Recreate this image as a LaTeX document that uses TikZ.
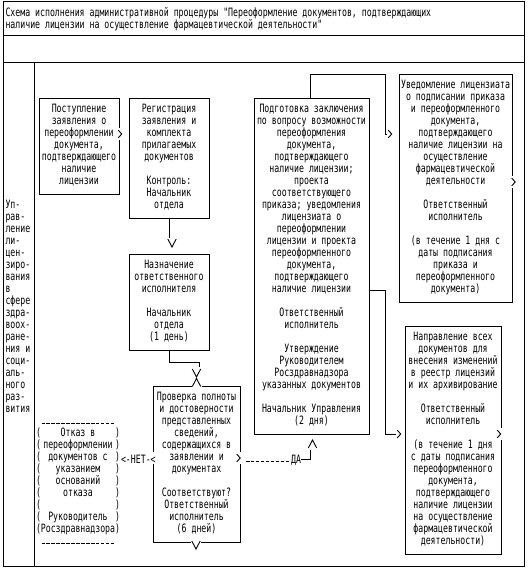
\documentclass[tikz,border=0pt]{standalone}
\usepackage{fontspec}
\newfontfamily\dmono[FakeStretch=0.715]{DejaVu Sans Mono}
\usetikzlibrary{calc}
\begin{document}
\begin{tikzpicture}[x=1pt,y=-1pt,line width=1pt,
  tx/.style={font=\dmono\fontsize{11.5pt}{12pt}\selectfont, align=center, inner sep=0pt,
    execute at begin node={\rule{0pt}{14.5pt}}, execute at end node={\rule[-3.5pt]{0pt}{3.5pt}}},
  box/.style={tx, draw, rectangle},
  lbl/.style={font=\dmono\fontsize{11.5pt}{12pt}\selectfont, inner sep=0pt, text height=11.5pt, text depth=0.5pt},
  hy/.style={dash pattern=on 3.5pt off 1.45pt},
  gtn/.style={inner sep=0pt, minimum width=5.5pt, minimum height=12pt, fill=white,
    path picture={\draw[line width=0.9pt] ($(path picture bounding box.center)+(-1.75pt,3.8pt)$) -- ($(path picture bounding box.center)+(1.75pt,0pt)$) -- ($(path picture bounding box.center)+(-1.75pt,-3.8pt)$);}},
  vdn/.style={inner sep=0pt, minimum width=10pt, minimum height=10pt, fill=white,
    path picture={\draw[line width=0.9pt] ($(path picture bounding box.center)+(-4.2pt,4pt)$) -- ($(path picture bounding box.center)+(0pt,-4pt)$) -- ($(path picture bounding box.center)+(4.2pt,4pt)$);}},
  vup/.style={inner sep=0pt, minimum width=10pt, minimum height=10pt, fill=white,
    path picture={\draw[line width=0.9pt] ($(path picture bounding box.center)+(-4.2pt,-4pt)$) -- ($(path picture bounding box.center)+(0pt,4pt)$) -- ($(path picture bounding box.center)+(4.2pt,-4pt)$);}}
]
\useasboundingbox (0,0) rectangle (529,570);
\fill[white] (0,0) rectangle (529,570);

% frame
\draw (3,1.5) rectangle (524,566);
\draw (3,35) -- (524,35);
\draw (3,62) -- (524,62);
\draw (34,62) -- (34,566);

\node[tx, align=left, anchor=west] (title) at (5,20) {Схема исполнения административной процедуры "Переоформление документов, подтверждающих\\наличие лицензии на осуществление фармацевтической деятельности"};

\node[tx, align=left, anchor=west] (lane) at (5,308) {Уп-\\рав-\\ление\\ли-\\цен-\\зиро-\\вания\\в\\сфере\\здра-\\воох-\\ране-\\ния и\\соци-\\аль-\\ного\\раз-\\вития};

% boxes
\node[box, minimum width=80pt, minimum height=96pt] (b1) at (79,146) {Поступление\\заявления о\\переоформлении\\документа,\\подтверждающего\\наличие\\лицензии};
\node[box, minimum width=80pt, minimum height=120pt] (b2) at (169,158) {Регистрация\\заявления и\\комплекта\\прилагаемых\\документов\\[12pt]Контроль:\\Начальник\\отдела};
\node[box, minimum width=80pt, minimum height=96pt] (b3) at (169,302) {Назначение\\ответственного\\исполнителя\\[12pt]Начальник\\отдела\\(1 день)};
\node[box, minimum width=87pt, minimum height=156pt] (b4) at (196.5,464) {Проверка полноты\\и достоверности\\представленных\\сведений,\\содержащихся в\\заявлении и\\документах\\[12pt]Соответствуют?\\Ответственный\\исполнитель\\(6 дней)};
\node[box, minimum width=115pt, minimum height=336pt] (b5) at (311.5,266) {Подготовка заключения\\по вопросу возможности\\переоформления\\документа,\\подтверждающего\\наличие лицензии;\\проекта\\соответствующего\\приказа; уведомления\\лицензиата о\\переоформлении\\лицензии и проекта\\переоформленного\\документа,\\подтверждающего\\наличие лицензии\\[12pt]Ответственный\\исполнитель\\[12pt]Утверждение\\Руководителем\\Росздравнадзора\\указанных документов\\[12pt]Начальник Управления\\(2 дня)};
\node[box, minimum width=113pt, minimum height=228pt] (b6) at (455.5,188) {Уведомление лицензиата\\о подписании приказа\\и переоформленного\\документа,\\подтверждающего\\наличие лицензии на\\осуществление\\фармацевтической\\деятельности\\[12pt]Ответственный\\исполнитель\\[12pt](в течение 1 дня с\\даты подписания\\приказа и\\переоформленного\\документа)};
\node[box, minimum width=96pt, minimum height=228pt] (b7) at (453,440) {Направление всех\\документов для\\внесения изменений\\в реестр лицензий\\и их архивирование\\[12pt]Ответственный\\исполнитель\\[12pt](в течение 1 дня\\с даты подписания\\переоформленного\\документа,\\подтверждающего\\наличие лицензии\\на осуществление\\фармацевтической\\деятельности)};

% refusal
\node[tx] (rf) at (78,482) {Отказ в\\переоформлении\\документов с\\указанием\\оснований\\отказа\\[12pt]Руководитель\\Росздравнадзора};
\node[tx] (lp) at (38.5,482) {(\\(\\(\\(\\(\\(\\(\\(\\(};
\node[tx] (rp) at (117.5,482) {)\\)\\)\\)\\)\\)\\)\\)\\)};
\draw[hy] (41.5,423) -- (115,423);
\draw[hy] (41.5,543) -- (115,543);

% b1 -> b2
\node[gtn] (g12) at (120,134) {};
% b2 -> b3
\draw (b2.south) -- ++(0,19);
\node[vdn] (v23) at (172,243) {};
% b3 -> b4
\draw (b3.south) -- ++(0,12) -| (199,367);
\node[vdn] (v34) at (196.5,373) {};
\node[vup] (u34) at (196.5,382.5) {};
% b4 -> refusal
\node[lbl, fill=white, anchor=west] (no) at (120.5,458) {<-НЕТ-<};
% b4 -> b5
\node[gtn] (g45) at (238.5,458) {};
\node[lbl] (yes) at (296,458) {ДА};
\draw[hy] (246,461) -- (yes.west |- 0,461);
\draw (yes.east |- 0,459) -- (310,459) -- (310,450);
\node[vup] (u45) at (312.5,444) {};
% b5 -> b6
\draw (b5.north -| 310,0) |- (385,74) |- (388,134);
\node[gtn] (g56) at (390,134) {};
% b5 -> b7
\draw (b5.east |- 0,290) -| (385,434) -- (397,434);
\node[gtn] (g57) at (399,434) {};
% outgoing marks
\node[gtn] (g6) at (513.5,182) {};
\node[gtn] (g7) at (499,434) {};
\node[vdn] (v4) at (196,545) {};
\end{tikzpicture}
\end{document}
